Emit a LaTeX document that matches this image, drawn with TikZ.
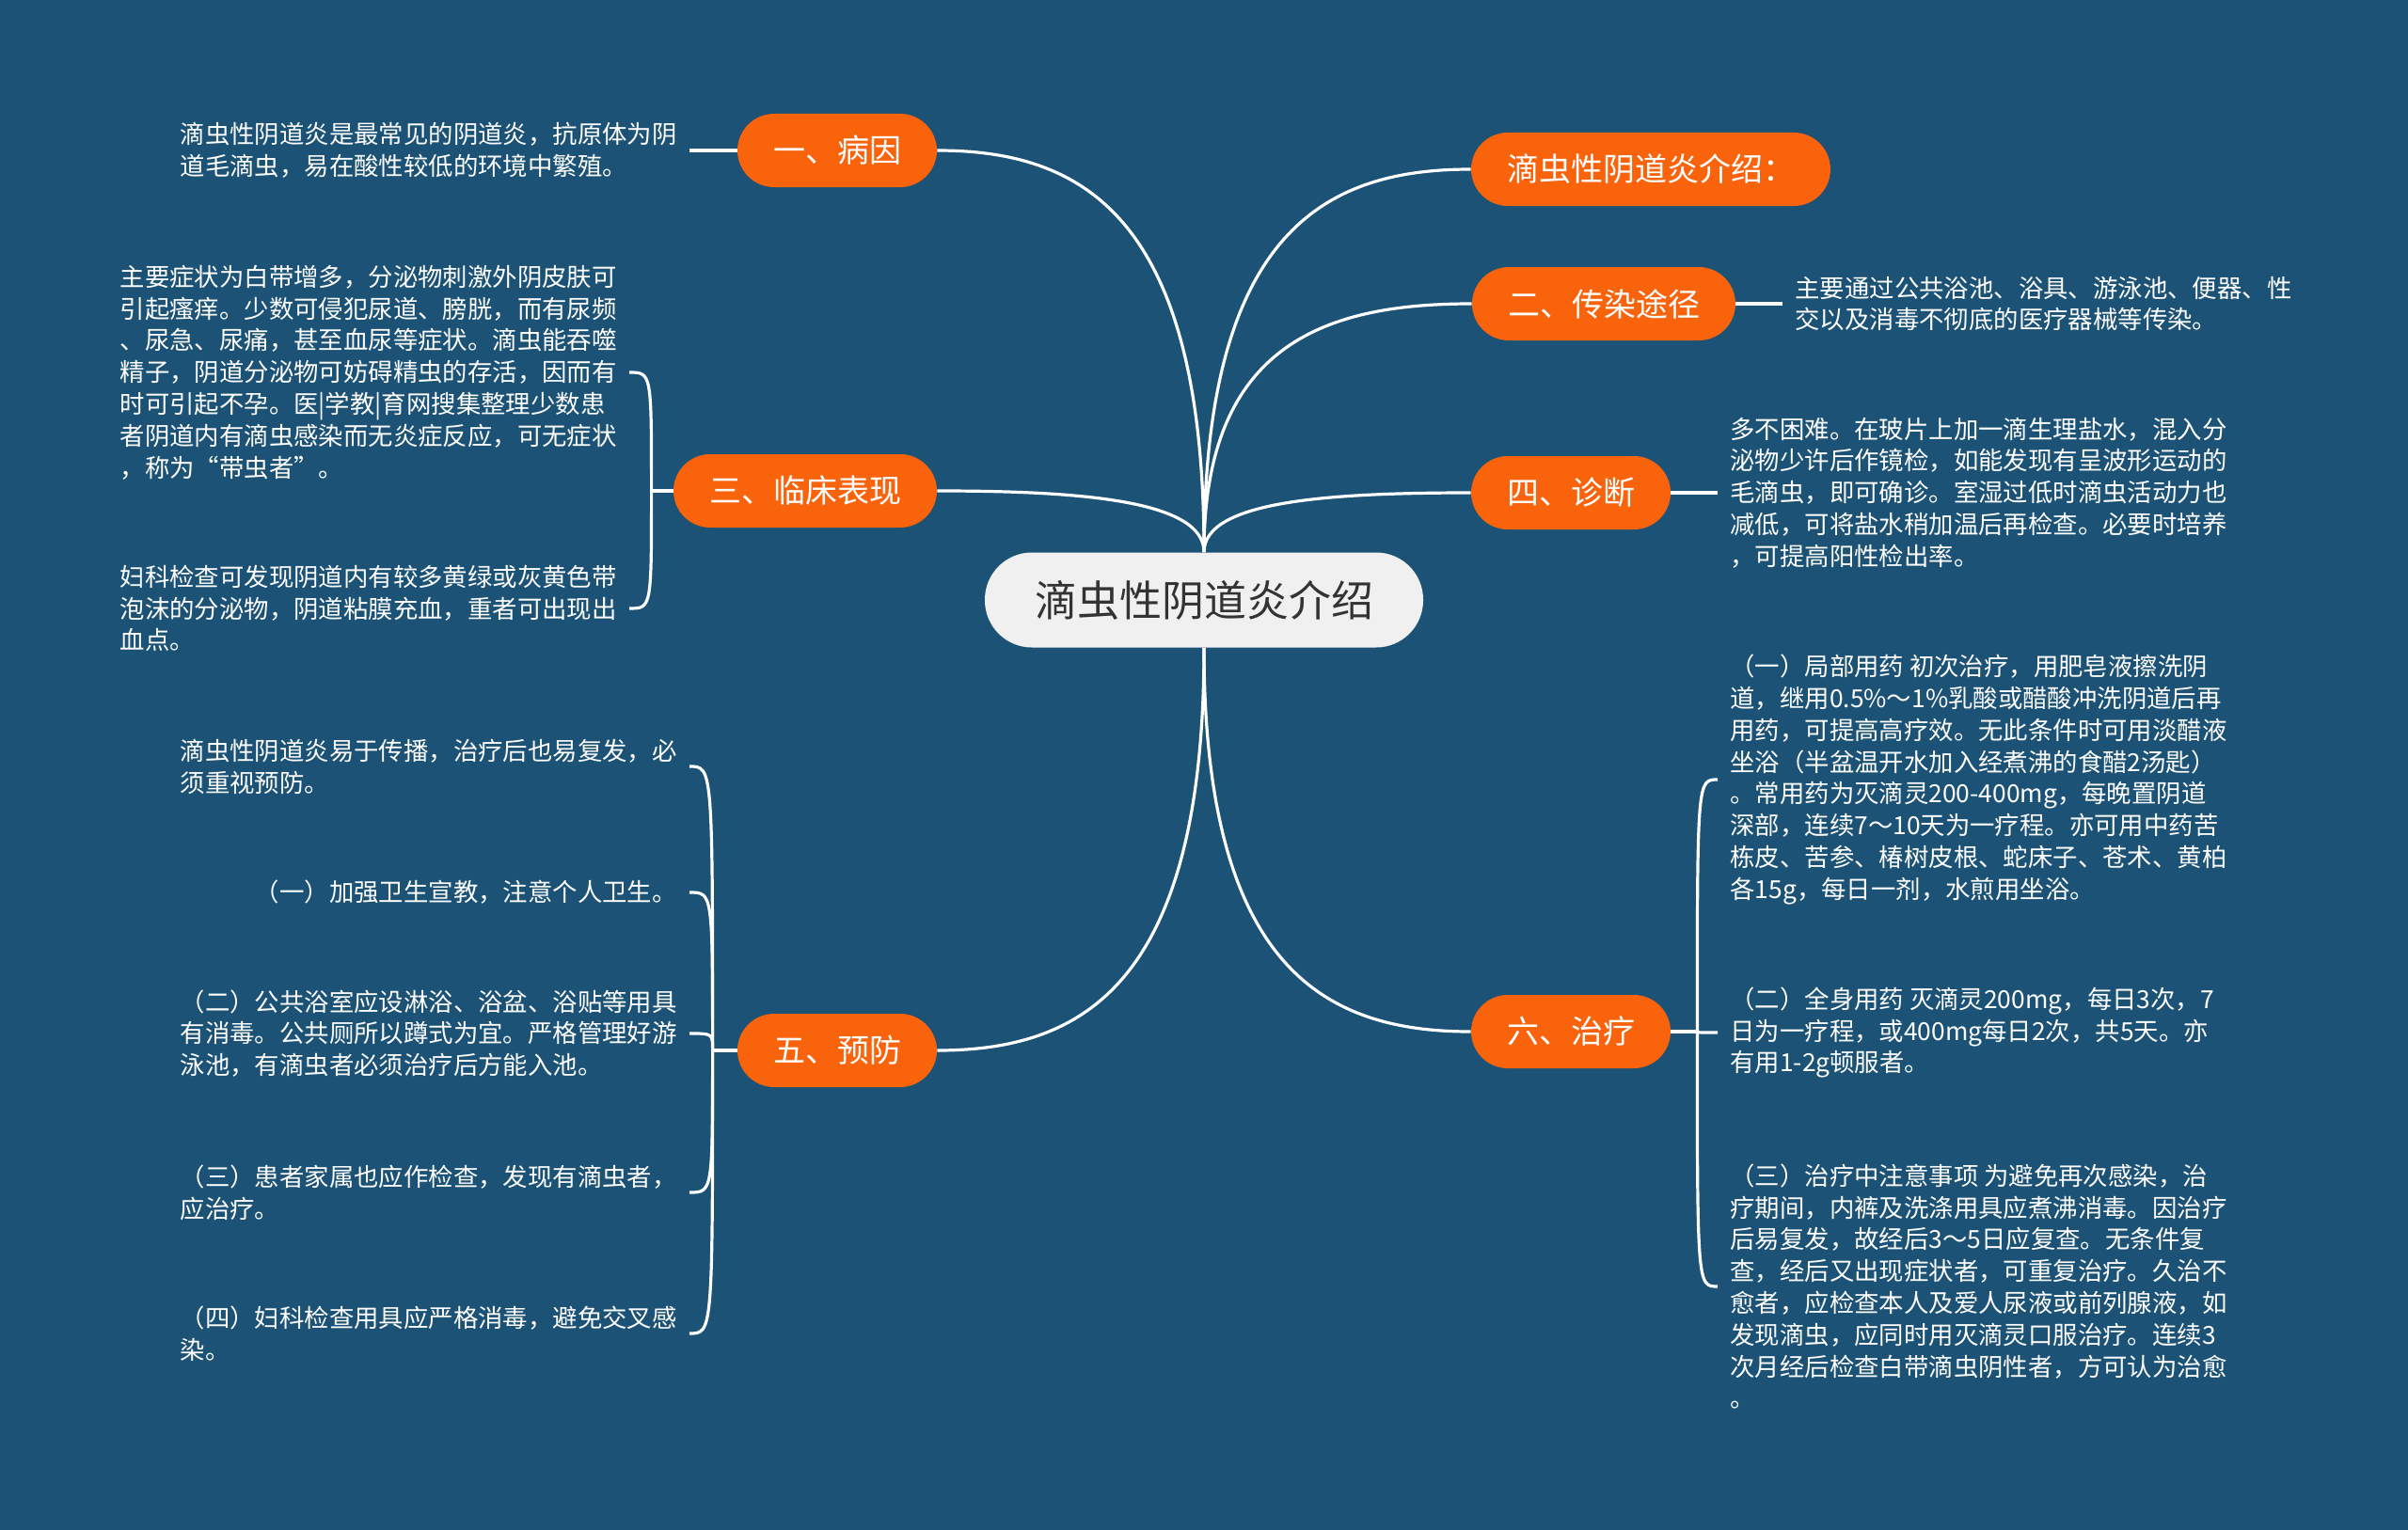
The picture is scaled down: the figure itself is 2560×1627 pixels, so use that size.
\documentclass[tikz,border=0pt]{standalone}
\usepackage{fontspec}
\newfontfamily\cjk{Noto Sans CJK SC}
\usetikzlibrary{calc}
\definecolor{bg}{RGB}{27,82,118}
\definecolor{org}{RGB}{249,99,12}
\definecolor{ctr}{RGB}{240,240,240}
\definecolor{ctxt}{RGB}{51,51,51}
\begin{document}
\begin{tikzpicture}[x=0.5pt,y=-0.5pt,
  conn/.style={draw=white,line width=1.6pt},
  branch/.style={fill=org,text=white,rounded corners=19.5pt,minimum height=39pt,inner xsep=19pt,inner ysep=0pt,font=\cjk\fontsize{17pt}{20pt}\selectfont},
  root/.style={fill=ctr,text=ctxt,rounded corners=25pt,minimum height=50.5pt,inner xsep=26.5pt,inner ysep=0pt,font=\cjk\fontsize{22.5pt}{26pt}\selectfont},
  leaf/.style={text=white,align=left,inner xsep=6.5pt,inner ysep=0pt,font=\cjk\fontsize{13.2pt}{16.9pt}\selectfont},
]
\fill[bg] (0,0) rectangle (2560,1627);
\useasboundingbox (0,0) rectangle (2560,1627);

% root and branches
\node[root] (c) at (1280,638) {滴虫性阴道炎介绍};
\node[branch] (b1) at (890,160) {一、病因};
\node[branch] (b0) at (1755,180) {滴虫性阴道炎介绍：};
\node[branch] (b2) at (1705,323) {二、传染途径};
\node[branch] (b3) at (856,522) {三、临床表现};
\node[branch] (b4) at (1670,524) {四、诊断};
\node[branch] (b5) at (890,1117) {五、预防};
\node[branch] (b6) at (1670,1097) {六、治疗};

% leaves
\node[leaf,anchor=east] (l1) at (733,160) {滴虫性阴道炎是最常见的阴道炎，抗原体为阴\\道毛滴虫，易在酸性较低的环境中繁殖。};
\node[leaf,anchor=west] (l2) at (1895,323) {主要通过公共浴池、浴具、游泳池、便器、性\\交以及消毒不彻底的医疗器械等传染。};
\node[leaf,anchor=east] (l3a) at (669,396) {主要症状为白带增多，分泌物刺激外阴皮肤可\\引起瘙痒。少数可侵犯尿道、膀胱，而有尿频\\、尿急、尿痛，甚至血尿等症状。滴虫能吞噬\\精子，阴道分泌物可妨碍精虫的存活，因而有\\时可引起不孕。医|学教|育网搜集整理少数患\\者阴道内有滴虫感染而无炎症反应，可无症状\\，称为“带虫者”。};
\node[leaf,anchor=east] (l3b) at (669,647) {妇科检查可发现阴道内有较多黄绿或灰黄色带\\泡沫的分泌物，阴道粘膜充血，重者可出现出\\血点。};
\node[leaf,anchor=west] (l4) at (1826,524) {多不困难。在玻片上加一滴生理盐水，混入分\\泌物少许后作镜检，如能发现有呈波形运动的\\毛滴虫，即可确诊。室湿过低时滴虫活动力也\\减低，可将盐水稍加温后再检查。必要时培养\\，可提高阳性检出率。};
\node[leaf,anchor=east] (l5a) at (733,815) {滴虫性阴道炎易于传播，治疗后也易复发，必\\须重视预防。};
\node[leaf,anchor=east] (l5b) at (733,949) {（一）加强卫生宣教，注意个人卫生。};
\node[leaf,anchor=east] (l5c) at (733,1099) {（二）公共浴室应设淋浴、浴盆、浴贴等用具\\有消毒。公共厕所以蹲式为宜。严格管理好游\\泳池，有滴虫者必须治疗后方能入池。};
\node[leaf,anchor=east] (l5d) at (733,1268) {（三）患者家属也应作检查，发现有滴虫者，\\应治疗。};
\node[leaf,anchor=east] (l5e) at (733,1418) {（四）妇科检查用具应严格消毒，避免交叉感\\染。};
\node[leaf,anchor=west] (l6a) at (1826,829) {（一）局部用药 初次治疗，用肥皂液擦洗阴\\道，继用0.5\%～1\%乳酸或醋酸冲洗阴道后再\\用药，可提高高疗效。无此条件时可用淡醋液\\坐浴（半盆温开水加入经煮沸的食醋2汤匙）\\。常用药为灭滴灵200-400mg，每晚置阴道\\深部，连续7～10天为一疗程。亦可用中药苦\\栋皮、苦参、椿树皮根、蛇床子、苍术、黄柏\\各15g，每日一剂，水煎用坐浴。};
\node[leaf,anchor=west] (l6b) at (1826,1098) {（二）全身用药 灭滴灵200mg，每日3次，7\\日为一疗程，或400mg每日2次，共5天。亦\\有用1-2g顿服者。};
\node[leaf,anchor=west] (l6c) at (1826,1368) {（三）治疗中注意事项 为避免再次感染，治\\疗期间，内裤及洗涤用具应煮沸消毒。因治疗\\后易复发，故经后3～5日应复查。无条件复\\查，经后又出现症状者，可重复治疗。久治不\\愈者，应检查本人及爱人尿液或前列腺液，如\\发现滴虫，应同时用灭滴灵口服治疗。连续3\\次月经后检查白带滴虫阴性者，方可认为治愈\\。};

% root connectors
\draw[conn] (c.north) .. controls ($(c.north)+(0,-358)$) and ($(b1.east)+(154,0)$) .. (b1.east);
\draw[conn] (c.north) .. controls ($(c.north)+(0,-343)$) and ($(b0.west)+(-153,0)$) .. (b0.west);
\draw[conn] (c.north) .. controls ($(c.north)+(0,-223)$) and ($(b2.west)+(-153,0)$) .. (b2.west);
\draw[conn] (c.north) .. controls ($(c.north)+(0,-55)$) and ($(b3.east)+(153,0)$) .. (b3.east);
\draw[conn] (c.north) .. controls ($(c.north)+(0,-54)$) and ($(b4.west)+(-153,0)$) .. (b4.west);
\draw[conn] (c.south) .. controls ($(c.south)+(0,360)$) and ($(b5.east)+(153,0)$) .. (b5.east);
\draw[conn] (c.south) .. controls ($(c.south)+(0,343)$) and ($(b6.west)+(-153,0)$) .. (b6.west);

% simple leaf connectors
\draw[conn] (b1.west) -- (l1.east);
\draw[conn] (b2.east) -- (l2.west);
\draw[conn] (b4.east) -- (l4.west);

% bracket connectors
\coordinate (s3) at ($(b3.west)+(-23,0)$);
\coordinate (s5) at ($(b5.west)+(-26,0)$);
\coordinate (s6) at ($(b6.east)+(28,0)$);
\draw[conn] (b3.west) -- (s3);
\foreach \l in {l3a,l3b}
  \draw[conn] (s3) .. controls (s3 |- \l.east) and (s3 |- \l.east) .. (\l.east);
\draw[conn] (b5.west) -- (s5);
\foreach \l in {l5a,l5b,l5c,l5d,l5e}
  \draw[conn] (s5) .. controls (s5 |- \l.east) and (s5 |- \l.east) .. (\l.east);
\draw[conn] (b6.east) -- (s6);
\foreach \l in {l6a,l6b,l6c}
  \draw[conn] (s6) .. controls (s6 |- \l.west) and (s6 |- \l.west) .. (\l.west);
\end{tikzpicture}
\end{document}
